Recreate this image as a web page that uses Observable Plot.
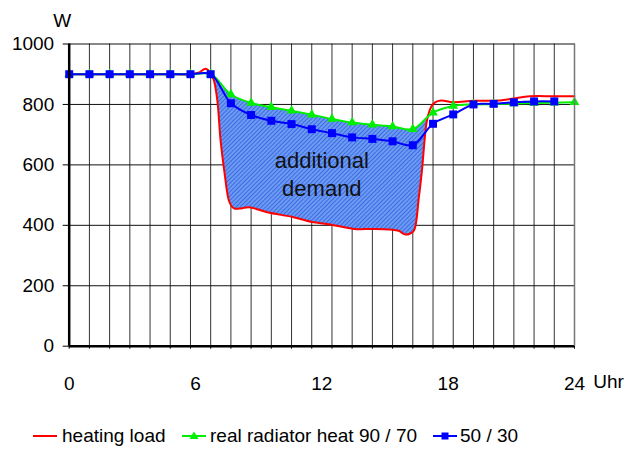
<!DOCTYPE html>
<html>
<head>
<meta charset="utf-8">
<script src="https://cdn.jsdelivr.net/npm/d3@7"></script>
<script src="https://cdn.jsdelivr.net/npm/@observablehq/plot@0.6"></script>
<style>
  body { margin: 0; background: #fff; font-family: "Liberation Sans", Arial, sans-serif; }
  #wrap { position: relative; width: 635px; height: 455px; }
  .leg { position: absolute; top: 425px; font-size: 19px; line-height: 22px; color: #000; white-space: nowrap; }
  .leg svg { position: absolute; top: 0; }
</style>
</head>
<body>
<div id="wrap"></div>
<script>
// ----- data -----
const hours = d3.range(0, 25);                  // category positions of the radiator series
const greenHours = d3.range(0, 26);
const blueValues = [900,900,900,900,900,900,900,900,804,765,746,735,718,705,691,686,678,665,736,767,800,802,807,810,810];
const greenValues = [900,900,900,900,900,900,900,900,833,805,791,779,766,752,740,733,727,718,773,795,800,801,803,805,806,807];
const redX = [0,1,2,3,4,5,6,6.4,6.75,7.0,7.16,7.33,7.49,7.69,7.9,8.05,8.2,8.5,8.9,9.8,11.1,12.1,12.9,14.1,15.0,15.9,16.3,16.6,16.85,17.06,17.3,17.45,17.7,17.9,18.1,18.4,19.0,20.0,21.3,22.0,22.8,24,25];
const redY = [900,900,900,900,900,900,900,905,918,903,879,813,680,571,482,462,455,456,460,443,427,410,403,388,388,386,382,370,372,383,493,580,747,791,807,813,807,812,813,820,827,827,827];
const xTickValues = [0, 6.25, 12.5, 18.75, 25];
const xTickLabels = ["0", "6", "12", "18", "24"];
const yTicks = [0, 200, 400, 600, 800, 1000];
const seriesNames = ["heating load", "real radiator heat 90 / 70", "50 / 30"];
const annotation = "additional\ndemand";

// ----- derived tables -----
const blue = hours.map((h, i) => ({x: h, y: blueValues[i]}));
const green = greenHours.map((h, i) => ({x: h, y: greenValues[i]}));
const red = redX.map((x, i) => ({x, y: redY[i]}));
const greenAt = x => { const i = Math.floor(x); const f = x - i; return greenValues[i] + f * ((greenValues[i + 1] ?? greenValues[i]) - greenValues[i]); };
const fillPoly = [
  ...red.filter(d => d.x >= 7 && d.x <= 17.7),
  {x: 17.75, y: greenAt(17.75)},
  ...green.filter(d => d.x >= 7 && d.x <= 17).reverse()
];

const chart = Plot.plot({
  width: 635, height: 400,
  marginLeft: 68.7, marginRight: 61, marginTop: 43.5, marginBottom: 54.3,
  style: {fontFamily: "'Liberation Sans', Arial, sans-serif", fontSize: "19px", color: "#000", background: "#fff"},
  x: {domain: [0, 25]},
  y: {domain: [0, 1000]},
  marks: [
    Plot.ruleX(greenHours, {x: d => d, stroke: "#333", strokeWidth: 1}),
    Plot.ruleY(yTicks, {y: d => d, stroke: "#111", strokeWidth: 1}),
    Plot.line(fillPoly, {x: "x", y: "y", fill: "url(#hatch)", stroke: "none", curve: "catmull-rom"}),
    Plot.line(red, {x: "x", y: "y", stroke: "#ff0000", strokeWidth: 2, curve: "catmull-rom"}),
    Plot.line(green, {x: "x", y: "y", stroke: "#00ee00", strokeWidth: 2, curve: "catmull-rom"}),
    Plot.dot(green, {x: "x", y: "y", symbol: "triangle", r: 3.6, fill: "#00ee00", stroke: "none"}),
    Plot.line(blue, {x: "x", y: "y", stroke: "#0000ff", strokeWidth: 2, curve: "catmull-rom"}),
    Plot.dot(blue, {x: "x", y: "y", symbol: "square", r: 4.5, fill: "#0000ff", stroke: "none"}),
    Plot.text([annotation], {x: 12.5, y: 573, text: d => d, fontSize: 22, lineHeight: 1.29, fill: "#111", textAnchor: "middle"}),
    Plot.axisY(yTicks, {tickSize: 6, tickPadding: 9, stroke: "#000", tickFormat: d => String(d), label: null}),
    Plot.axisX(greenHours, {tickSize: 3, tickFormat: () => "", label: null}),
    Plot.axisX(xTickValues, {tickSize: 0, tickPadding: 30, tickFormat: (d, i) => xTickLabels[i], label: null}),
    Plot.ruleX([0], {stroke: "#000", strokeWidth: 2.5}),
    Plot.ruleY([0], {stroke: "#000", strokeWidth: 2.5}),
    Plot.ruleX([25], {stroke: "#777", strokeWidth: 1.5}),
    Plot.text(["W"], {x: 0, y: 1000, text: d => d, dx: -7, dy: -23, fontSize: 19, textAnchor: "middle"}),
    Plot.text(["Uhr"], {x: 25, frameAnchor: "bottom", text: d => d, dx: 34, dy: 42, fontSize: 19, textAnchor: "middle"})
  ]
});

// hatch pattern definition for the "additional demand" area
const ns = "http://www.w3.org/2000/svg";
const defs = document.createElementNS(ns, "defs");
defs.innerHTML = `<pattern id="hatch" width="3" height="3" patternUnits="userSpaceOnUse" patternTransform="rotate(45)">
  <rect width="3" height="3" fill="#6d9bf3"/>
  <line x1="0" y1="0" x2="0" y2="3" stroke="#2f5fde" stroke-width="1.6"/>
</pattern>`;
chart.insertBefore(defs, chart.firstChild);

const wrap = document.getElementById("wrap");
wrap.appendChild(chart);

// legend below the chart
const legendItems = [
  {name: seriesNames[0], color: "#ff0000", symbol: null, lineLeft: 33, textLeft: 62},
  {name: seriesNames[1], color: "#00ee00", symbol: "triangle", lineLeft: 182, textLeft: 210},
  {name: seriesNames[2], color: "#0000ff", symbol: "square", lineLeft: 433, textLeft: 460}
];
for (const it of legendItems) {
  const sw = document.createElement("div");
  sw.className = "leg";
  sw.style.left = it.lineLeft + "px";
  sw.style.width = "26px"; sw.style.height = "22px";
  let sym = "";
  if (it.symbol === "triangle") sym = `<path d="M12,6.5 L16.5,14 L7.5,14 Z" fill="${it.color}"/>`;
  if (it.symbol === "square") sym = `<rect x="8.5" y="7.5" width="7" height="7" fill="${it.color}"/>`;
  sw.innerHTML = `<svg width="26" height="22"><line x1="0" x2="24" y1="11" y2="11" stroke="${it.color}" stroke-width="2"/>${sym}</svg>`;
  wrap.appendChild(sw);
  const tx = document.createElement("div");
  tx.className = "leg";
  tx.style.left = it.textLeft + "px";
  tx.textContent = it.name;
  wrap.appendChild(tx);
}
</script>
</body>
</html>
